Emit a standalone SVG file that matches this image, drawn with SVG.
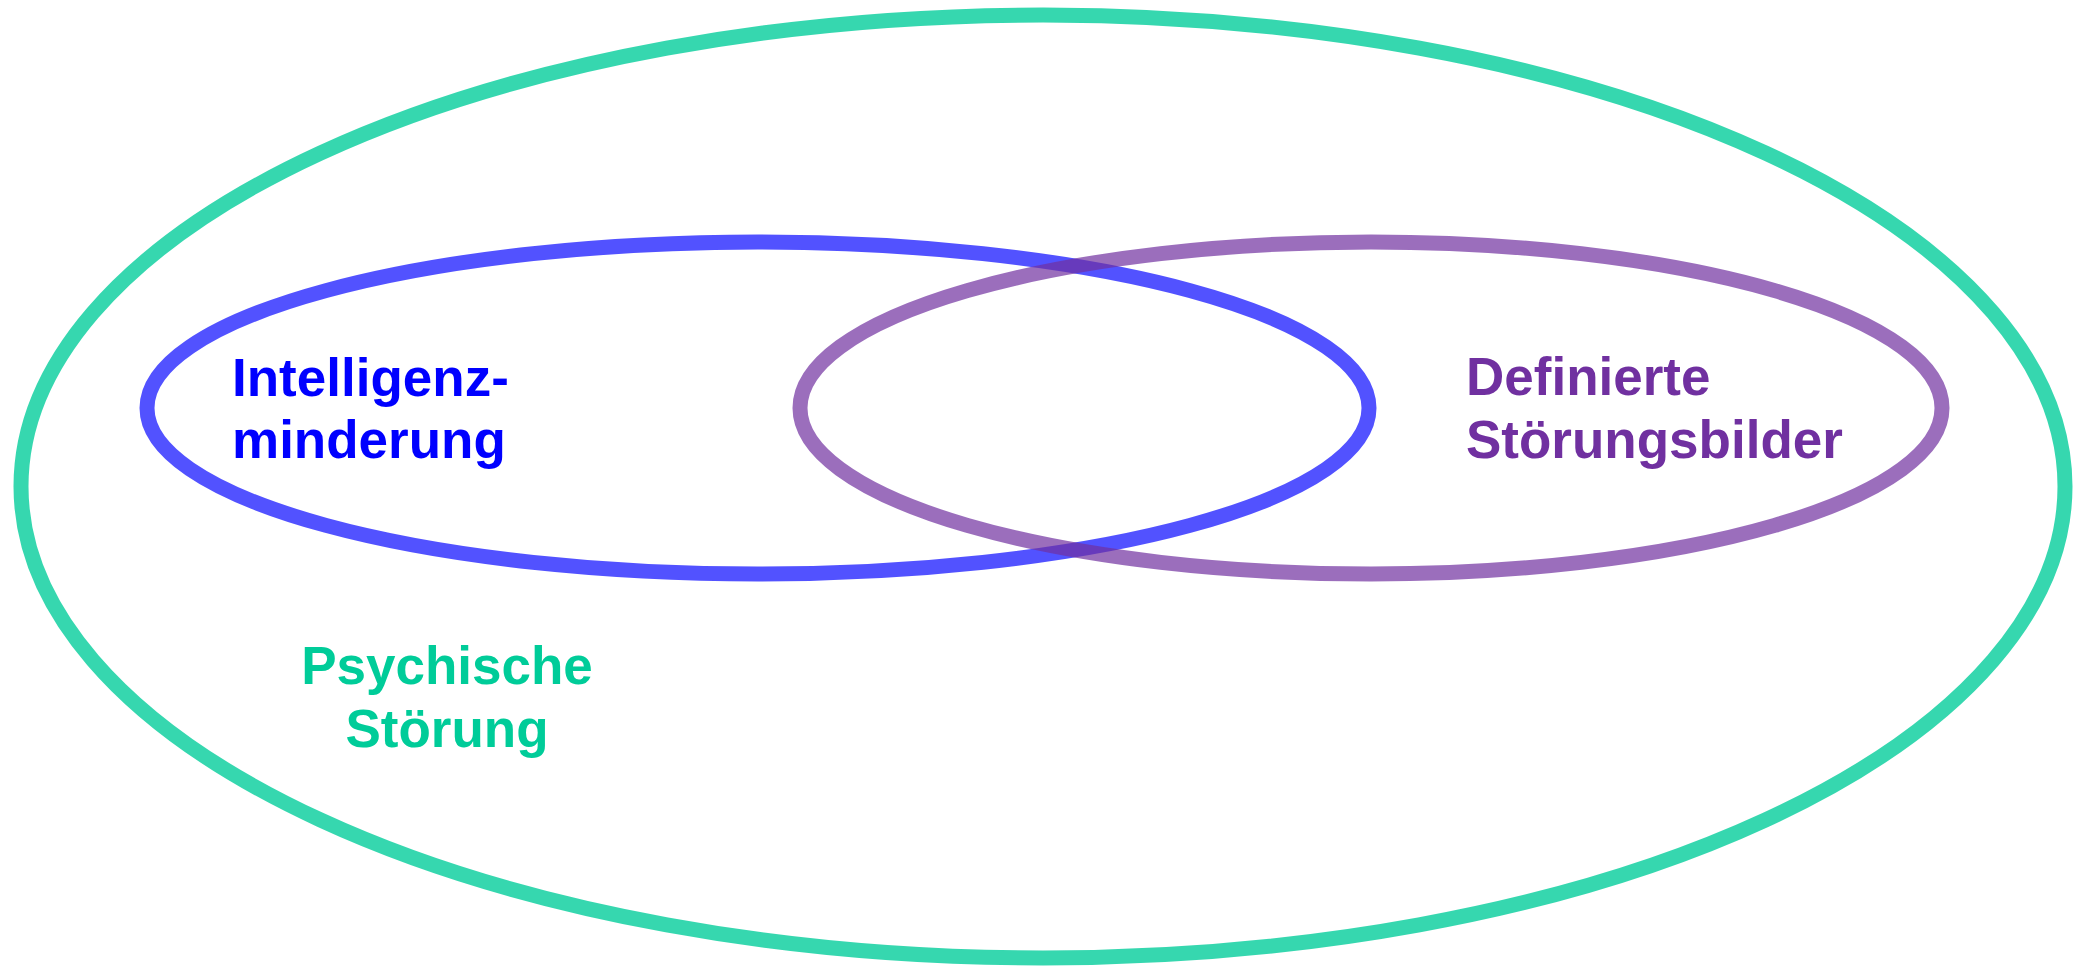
<svg xmlns="http://www.w3.org/2000/svg" width="2074" height="968" viewBox="0 0 2074 968">
<style>
.ring{fill:none;stroke-width:15}
.lbl{font-family:"Liberation Sans",Arial,sans-serif;font-weight:bold;font-size:53px}
</style>
<rect width="2074" height="968" fill="#ffffff"/>
<g id="psychische-stoerung">
<ellipse class="ring" cx="1043" cy="486.5" rx="1022" ry="471.5" stroke="#00CC99" stroke-opacity="0.79" stroke-width="16"/>
<text class="lbl" fill="#00CC99" text-anchor="middle"><tspan x="447" y="684">Psychische</tspan><tspan x="447" y="747">Störung</tspan></text>
</g>
<g id="intelligenzminderung">
<ellipse class="ring" cx="758" cy="408" rx="611" ry="166" stroke="#0000FF" stroke-opacity="0.68"/>
<text class="lbl" fill="#0000FF"><tspan x="232" y="395.5">Intelligenz-</tspan><tspan x="232" y="458">minderung</tspan></text>
</g>
<g id="definierte-stoerungsbilder">
<ellipse class="ring" cx="1371" cy="408" rx="571" ry="166" stroke="#7030A0" stroke-opacity="0.7"/>
<text class="lbl" fill="#7030A0"><tspan x="1466" y="395">Definierte</tspan><tspan x="1466" y="458">Störungsbilder</tspan></text>
</g>
<g id="connectors"></g>
</svg>
